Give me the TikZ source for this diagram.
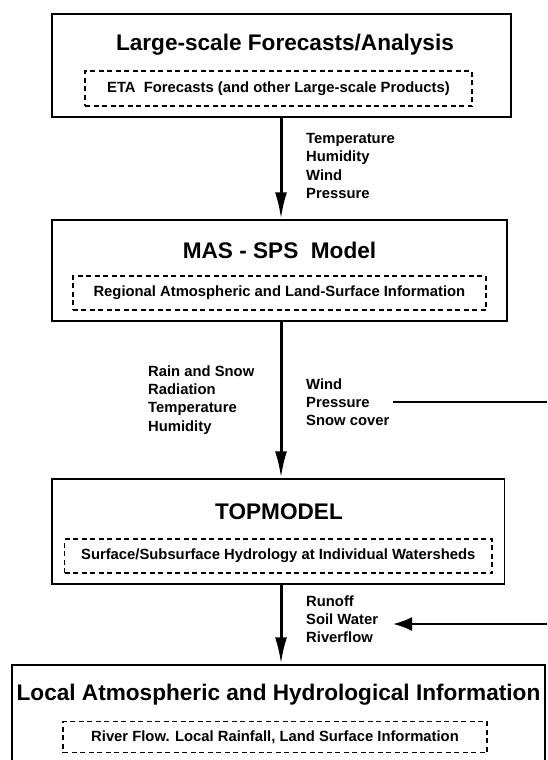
\documentclass[tikz,border=0pt]{standalone}
\usepackage{fontspec}
\setmainfont{Liberation Sans}
\usetikzlibrary{arrows.meta}
\begin{document}
\begin{tikzpicture}[x=1pt,y=-1pt,
  outerbox/.style={draw, line width=1.5pt, inner sep=0pt},
  inbox/.style={draw, line width=1.2pt, dash pattern=on 5pt off 3.5pt, inner sep=0pt,
    font=\fontsize{14.8}{18}\selectfont\bfseries},
  titletext/.style={inner sep=0pt, font=\fontsize{22.6}{27}\selectfont\bfseries},
  lbl/.style={inner sep=0pt, anchor=west, align=left, font=\fontsize{14.8}{18.2}\selectfont\bfseries},
  flow/.style={line width=3pt, -{Latex[length=27pt,width=12pt]}},
  side/.style={line width=2.4pt},
  sideflow/.style={line width=2.4pt, -{Latex[length=19pt,width=14pt]}}
]
\useasboundingbox (0,0) rectangle (547,760);
\clip (0,0) rectangle (547,760);
\fill[white] (0,0) rectangle (547,760);

% boxes
\node[outerbox, minimum width=459pt, minimum height=103pt] (b1) at (281.5,65.5) {};
\node[titletext] (t1) at (285,45) {Large-scale Forecasts/Analysis};
\node[inbox, minimum width=387pt, minimum height=35pt] (d1) at (278.5,88.5) {ETA\ \ Forecasts (and other Large-scale Products)};

\node[outerbox, minimum width=455pt, minimum height=101pt] (b2) at (279.5,270.5) {};
\node[titletext] (t2) at (279.5,250) {MAS - SPS\ \ Model};
\node[inbox, minimum width=413pt, minimum height=34pt] (d2) at (279.4,293) {Regional Atmospheric and Land-Surface Information};

\node[outerbox, minimum width=452.5pt, minimum height=105pt] (b3) at (278.25,531.5) {};
\node[titletext] (t3) at (279,512) {TOPMODEL};
\node[inbox, minimum width=427.5pt, minimum height=34pt] (d3) at (278.25,556) {Surface/Subsurface Hydrology at Individual Watersheds};

\node[outerbox, minimum width=533pt, minimum height=110pt] (b4) at (278.5,720) {};
\node[titletext] (t4) at (278.5,695) {Local Atmospheric and Hydrological Information};
\node[inbox, minimum width=424pt, minimum height=31pt] (d4) at (275,737) {River Flow. Local Rainfall, Land Surface Information};

% labels
\node[lbl] (l1) at (306,166) {Temperature\\Humidity\\Wind\\Pressure};
\node[lbl] (l2) at (148,400) {Rain and Snow\\Radiation\\Temperature\\Humidity};
\node[lbl] (r2) at (306,402.5) {Wind\\Pressure\\Snow cover};
\node[lbl] (r3) at (306,619) {Runoff\\Soil Water\\Riverflow};

% connectors
\coordinate (ax) at (281,0);
\coordinate (e1) at (547,402);
\coordinate (w1) at (393,402);
\coordinate (e2) at (547,624);
\coordinate (w2) at (393,624);

\draw[flow] (b1.south -| ax) -- (b2.north -| ax);
\draw[flow] (b2.south -| ax) -- (b3.north -| ax);
\draw[flow] (b3.south -| ax) -- (b4.north -| ax);
\draw[side] (w1) -- (e1);
\draw[sideflow] (e2) -- (w2);
\end{tikzpicture}
\end{document}
